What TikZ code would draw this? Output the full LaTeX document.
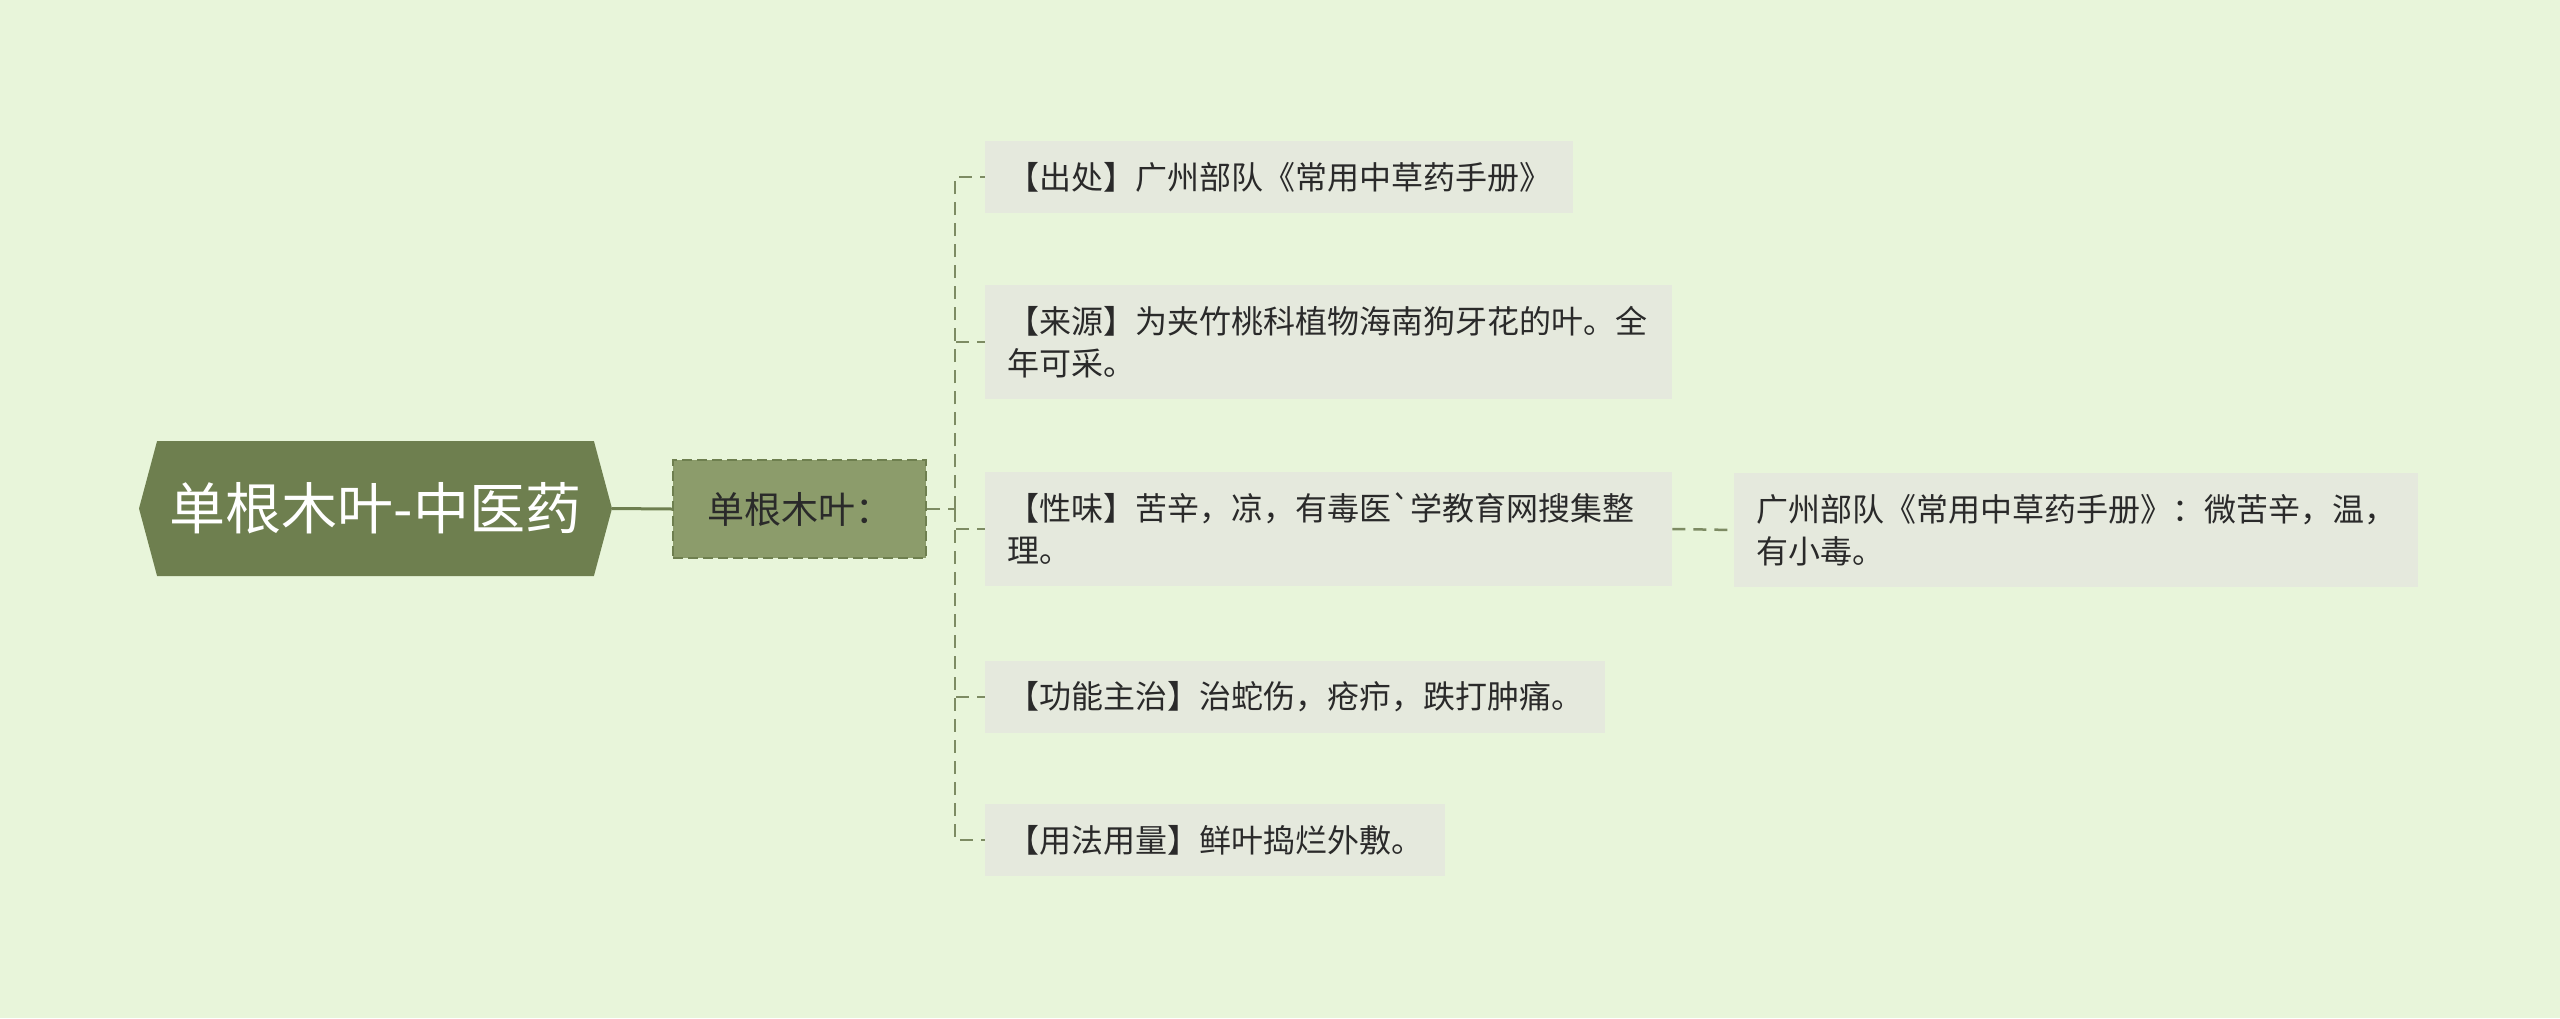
\documentclass[tikz,border=0pt]{standalone}
\usepackage{fontspec}
\newfontfamily\cjkfont{Noto Sans CJK SC}
\usetikzlibrary{shapes.symbols, positioning}
\definecolor{bgcol}{HTML}{E8F5DA}
\definecolor{rootcol}{HTML}{6E7F4F}
\definecolor{childcol}{HTML}{8C9C6B}
\definecolor{leafcol}{HTML}{E5E9DD}
\definecolor{linecol}{HTML}{7D8B63}
\definecolor{textcol}{HTML}{2A2A2A}
\tikzset{root node/.style={signal, signal to=west and east, signal pointer angle=150, fill=rootcol, text=white, minimum width=473pt, minimum height=135pt, inner sep=0pt, font=\cjkfont\fontsize{56}{60}\selectfont},
  child node/.style={rectangle, draw=rootcol, line width=2pt, dash pattern=on 10pt off 5pt, fill=childcol, text=textcol, minimum width=253pt, minimum height=98pt, font=\cjkfont\fontsize{37}{44}\selectfont},
  leaf node/.style={rectangle, fill=leafcol, text=textcol, anchor=west, align=left, inner xsep=22pt, inner ysep=21pt, font=\cjkfont\fontsize{32}{42}\selectfont},
  link/.style={draw=linecol, line width=2.5pt, dash pattern=on 13pt off 8pt}
}
\begin{document}
\begin{tikzpicture}[x=1pt, y=-1pt]
          \fill[bgcol] (0,0) rectangle (2560,1018);
          \useasboundingbox (0,0) rectangle (2560,1018);
          % Root
          \node[root node] (root) at (375.5, 508.5) {单根木叶-中医药};
          % Child
          \node[child node] (child) at (799.5, 509) {单根木叶：};
          \coordinate (trunk) at (955, 509);
          % Leaves
          \node[leaf node] (leaf1) at (985, 177) {【出处】广州部队《常用中草药手册》};
          \node[leaf node, text width=643pt] (leaf2) at (985, 342) {【来源】为夹竹桃科植物海南狗牙花的叶。全\\年可采。};
          \node[leaf node, text width=643pt] (leaf3) at (985, 529) {【性味】苦辛，凉，有毒医`学教育网搜集整\\理。};
          \node[leaf node] (leaf4) at (985, 697) {【功能主治】治蛇伤，疮疖，跌打肿痛。};
          \node[leaf node] (leaf5) at (985, 840) {【用法用量】鲜叶捣烂外敷。};
          \node[leaf node, text width=640pt] (grand) at (1734, 530) {广州部队《常用中草药手册》：微苦辛，温，\\有小毒。};
          % Connections
          \draw[rootcol, line width=3pt] (root.east) -- (child.west);
          \draw[link] (child.east) -- (trunk);
          \draw[link] (trunk) |- (leaf1.west);
          \draw[link] (trunk) |- (leaf2.west);
          \draw[link] (trunk) |- (leaf3.west);
          \draw[link] (trunk) |- (leaf4.west);
          \draw[link] (trunk) |- (leaf5.west);
          \draw[link] (leaf3.east) -- (grand.west);
        \end{tikzpicture}
\end{document}
